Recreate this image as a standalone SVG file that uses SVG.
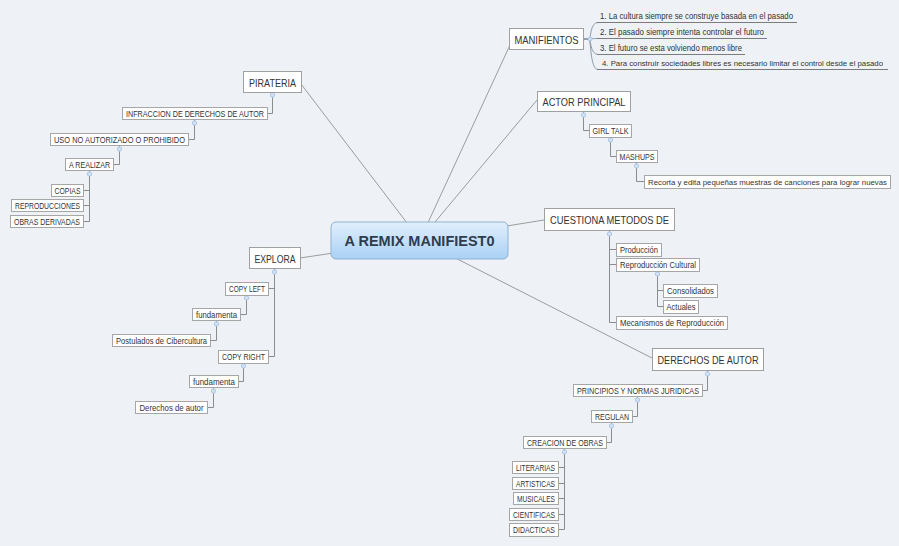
<svg xmlns="http://www.w3.org/2000/svg" width="899" height="546" viewBox="0 0 899 546">
<defs>
<linearGradient id="cg" x1="0" y1="0" x2="0" y2="1">
<stop offset="0" stop-color="#e2effc"/>
<stop offset="1" stop-color="#a9d1f5"/>
</linearGradient>
<style>
.bg{fill:#eef1f5}
.main line{stroke:#9c9c9c;stroke-width:1;fill:none}
.sub path{stroke:#8c8c8c;stroke-width:1;fill:none}
.cur path{stroke:#8c9aab;stroke-width:1;fill:none}
.ul{stroke:#7c7c7c;stroke-width:1}
.fold{fill:#cfe1f3;stroke:#a3c2e2;stroke-width:0.8}
.tb rect{fill:#ffffff;stroke:#a0a0a0;stroke-width:1}
.tb text{font-family:"Liberation Sans",Arial,sans-serif;font-size:11.5px;fill:#333333;text-anchor:middle}
.sb rect{fill:#ffffff;stroke:#a6a6a6;stroke-width:1}
.sb text{font-family:"Liberation Sans",Arial,sans-serif;font-size:8.6px;fill:#333333;text-anchor:middle}
.sb text.sm{font-size:7.6px}
.it{font-family:"Liberation Sans",Arial,sans-serif;font-size:8.6px;fill:#333333}
.it.sm{font-size:7.6px}
.ct{font-family:"Liberation Sans",Arial,sans-serif;font-size:15px;font-weight:bold;fill:#2e3d4d;text-anchor:middle}
</style>
</defs>
<rect class="bg" x="0" y="0" width="899" height="546"/>

<g id="connectors">
<g class="main">
<line x1="420" y1="240" x2="301" y2="84"/>
<line x1="420" y1="240" x2="300" y2="258"/>
<line x1="420" y1="240" x2="510" y2="45"/>
<line x1="420" y1="240" x2="537" y2="100"/>
<line x1="420" y1="240" x2="544" y2="220"/>
<line x1="420" y1="240" x2="652" y2="358"/>
</g>
<g class="sub">
<path d="M272.5,92 V113.5 H267"/>
<path d="M194.5,120 V139.5 H188"/>
<path d="M119.5,146 V164.5 H113"/>
<path d="M89.5,171 V221.5 H83 M89.5,190.5 H83 M89.5,205.5 H83"/>
<path d="M274.5,269 V356.5 H268 M274.5,288.5 H268"/>
<path d="M246.5,295 V314.5 H240"/>
<path d="M216.5,321 V340.5 H210"/>
<path d="M243.5,363 V381.5 H238"/>
<path d="M213.5,388 V407.5 H207"/>
<path d="M583.5,112 V130.5 H589"/>
<path d="M610.5,137 V156.5 H616"/>
<path d="M636.5,163 V181.5 H644"/>
<path d="M609.5,231 V322.5 H616 M609.5,249.5 H616 M609.5,264.5 H616"/>
<path d="M657.5,271 V306.5 H663 M657.5,290.5 H663"/>
<path d="M707.5,371 V390.5 H702"/>
<path d="M637.5,397 V416.5 H632"/>
<path d="M611.5,423 V442.5 H606"/>
<path d="M564.5,449 V529.5 H558 M564.5,467.5 H558 M564.5,483.5 H558 M564.5,498.5 H558 M564.5,514.5 H558"/>
</g>
<g class="cur">
<path d="M583,39 H589 C591,39 590,22.5 598,22.5"/>
<path d="M583,39 H589 C591,39 590,38.5 598,38.5"/>
<path d="M583,39 H589 C591,39 590,54.5 598,54.5"/>
<path d="M583,39 H589 C591,39 590,69.5 598,69.5"/>
</g>
<g>
<circle class="fold" cx="272.5" cy="95" r="2.2"/>
<circle class="fold" cx="194.5" cy="123" r="2.2"/>
<circle class="fold" cx="119.5" cy="149" r="2.2"/>
<circle class="fold" cx="89.5" cy="174" r="2.2"/>
<circle class="fold" cx="274.5" cy="272" r="2.2"/>
<circle class="fold" cx="246.5" cy="298" r="2.2"/>
<circle class="fold" cx="216.5" cy="324" r="2.2"/>
<circle class="fold" cx="243.5" cy="366" r="2.2"/>
<circle class="fold" cx="213.5" cy="391" r="2.2"/>
<circle class="fold" cx="583.5" cy="115" r="2.2"/>
<circle class="fold" cx="610.5" cy="140" r="2.2"/>
<circle class="fold" cx="636.5" cy="166" r="2.2"/>
<circle class="fold" cx="609.5" cy="234" r="2.2"/>
<circle class="fold" cx="657.5" cy="274" r="2.2"/>
<circle class="fold" cx="707.5" cy="374" r="2.2"/>
<circle class="fold" cx="637.5" cy="400" r="2.2"/>
<circle class="fold" cx="611.5" cy="426" r="2.2"/>
<circle class="fold" cx="564.5" cy="452" r="2.2"/>
<circle class="fold" cx="590" cy="39" r="2"/>
</g>
</g>

<g id="center">
<rect x="331" y="222" width="177" height="37" rx="5" fill="url(#cg)" stroke="#8fb2d4" stroke-width="1"/>
<text class="ct" x="419.5" y="246" textLength="150" lengthAdjust="spacingAndGlyphs">A REMIX MANIFIEST0</text>
</g>

<g id="pirateria" class="tb"><rect x="243.5" y="71.5" width="58" height="21"/><text x="272.5" y="86.5" textLength="47" lengthAdjust="spacingAndGlyphs">PIRATERIA</text></g>
<g id="explora" class="tb"><rect x="249.5" y="247.5" width="51" height="21"/><text x="275" y="262.5" textLength="41" lengthAdjust="spacingAndGlyphs">EXPLORA</text></g>
<g id="manifientos" class="tb"><rect x="509.5" y="28.5" width="74" height="21"/><text x="546.5" y="43.5" textLength="64" lengthAdjust="spacingAndGlyphs">MANIFIENTOS</text></g>
<g id="actor" class="tb"><rect x="537.5" y="91.5" width="93" height="20"/><text x="584" y="105.5" textLength="83" lengthAdjust="spacingAndGlyphs">ACTOR PRINCIPAL</text></g>
<g id="cuestiona" class="tb"><rect x="544.5" y="208.5" width="130" height="22"/><text x="609.5" y="223.5" textLength="119" lengthAdjust="spacingAndGlyphs">CUESTIONA METODOS DE</text></g>
<g id="derechos" class="tb"><rect x="652.5" y="348.5" width="111" height="22"/><text x="708" y="363.5" textLength="101" lengthAdjust="spacingAndGlyphs">DERECHOS DE AUTOR</text></g>

<g id="infraccion" class="sb"><rect x="122.5" y="107.5" width="145" height="12"/><text x="195" y="116.5" textLength="138" lengthAdjust="spacingAndGlyphs">INFRACCION DE DERECHOS DE AUTOR</text></g>
<g id="uso" class="sb"><rect x="50.5" y="133.5" width="138" height="12"/><text x="119.5" y="142.5" textLength="131" lengthAdjust="spacingAndGlyphs">USO NO AUTORIZADO O PROHIBIDO</text></g>
<g id="arealizar" class="sb"><rect x="65.5" y="158.5" width="48" height="12"/><text x="89.5" y="167.5" textLength="41" lengthAdjust="spacingAndGlyphs">A REALIZAR</text></g>
<g id="copias" class="sb"><rect x="51.5" y="184.5" width="32" height="12"/><text x="67.5" y="193.5" textLength="26" lengthAdjust="spacingAndGlyphs">COPIAS</text></g>
<g id="reproducciones" class="sb"><rect x="11.5" y="199.5" width="72" height="12"/><text x="47.5" y="208.5" textLength="65" lengthAdjust="spacingAndGlyphs">REPRODUCCIONES</text></g>
<g id="obras" class="sb"><rect x="10.5" y="215.5" width="73" height="12"/><text x="47" y="224.5" textLength="66" lengthAdjust="spacingAndGlyphs">OBRAS DERIVADAS</text></g>

<g id="copyleft" class="sb"><rect x="225.5" y="282.5" width="43" height="13"/><text x="247" y="292" textLength="36" lengthAdjust="spacingAndGlyphs">COPY LEFT</text></g>
<g id="fundamenta1" class="sb"><rect x="192.5" y="308.5" width="48" height="12"/><text x="216.5" y="317.5" textLength="41" lengthAdjust="spacingAndGlyphs">fundamenta</text></g>
<g id="postulados" class="sb"><rect x="112.5" y="334.5" width="98" height="12"/><text x="161.5" y="343.5" textLength="91" lengthAdjust="spacingAndGlyphs">Postulados de Cibercultura</text></g>
<g id="copyright" class="sb"><rect x="218.5" y="350.5" width="50" height="13"/><text x="243.5" y="360" textLength="43" lengthAdjust="spacingAndGlyphs">COPY RIGHT</text></g>
<g id="fundamenta2" class="sb"><rect x="189.5" y="375.5" width="49" height="12"/><text x="214" y="384.5" textLength="42" lengthAdjust="spacingAndGlyphs">fundamenta</text></g>
<g id="derechosautor" class="sb"><rect x="135.5" y="401.5" width="72" height="12"/><text x="171.5" y="410.5" textLength="64" lengthAdjust="spacingAndGlyphs">Derechos de autor</text></g>

<g id="girltalk" class="sb"><rect x="589.5" y="124.5" width="42" height="13"/><text x="610.5" y="134" textLength="36" lengthAdjust="spacingAndGlyphs">GIRL TALK</text></g>
<g id="mashups" class="sb"><rect x="616.5" y="150.5" width="41" height="12"/><text x="637" y="159.5" textLength="35" lengthAdjust="spacingAndGlyphs">MASHUPS</text></g>
<g id="recorta" class="sb"><rect x="644.5" y="175.5" width="246" height="13"/><text class="sm" x="767.5" y="185" textLength="239" lengthAdjust="spacingAndGlyphs">Recorta y edita pequeñas muestras de canciones para lograr nuevas</text></g>

<g id="produccion" class="sb"><rect x="616.5" y="243.5" width="45" height="13"/><text x="639" y="253" textLength="38" lengthAdjust="spacingAndGlyphs">Producción</text></g>
<g id="reproduccion" class="sb"><rect x="616.5" y="258.5" width="83" height="13"/><text x="658" y="268" textLength="76" lengthAdjust="spacingAndGlyphs">Reproducción Cultural</text></g>
<g id="consolidados" class="sb"><rect x="663.5" y="284.5" width="54" height="13"/><text x="690.5" y="294" textLength="47" lengthAdjust="spacingAndGlyphs">Consolidados</text></g>
<g id="actuales" class="sb"><rect x="663.5" y="300.5" width="35" height="13"/><text x="681" y="310" textLength="29" lengthAdjust="spacingAndGlyphs">Actuales</text></g>
<g id="mecanismos" class="sb"><rect x="616.5" y="316.5" width="111" height="13"/><text x="672" y="326" textLength="104" lengthAdjust="spacingAndGlyphs">Mecanismos de Reproducción</text></g>

<g id="principios" class="sb"><rect x="573.5" y="384.5" width="129" height="12"/><text x="638" y="393.5" textLength="122" lengthAdjust="spacingAndGlyphs">PRINCIPIOS Y NORMAS JURIDICAS</text></g>
<g id="regulan" class="sb"><rect x="591.5" y="410.5" width="41" height="12"/><text x="612" y="419.5" textLength="34" lengthAdjust="spacingAndGlyphs">REGULAN</text></g>
<g id="creacion" class="sb"><rect x="523.5" y="436.5" width="83" height="12"/><text x="565" y="445.5" textLength="76" lengthAdjust="spacingAndGlyphs">CREACION DE OBRAS</text></g>
<g id="literarias" class="sb"><rect x="512.5" y="461.5" width="46" height="12"/><text x="535.5" y="470.5" textLength="39" lengthAdjust="spacingAndGlyphs">LITERARIAS</text></g>
<g id="artisticas" class="sb"><rect x="512.5" y="477.5" width="46" height="12"/><text x="535.5" y="486.5" textLength="39" lengthAdjust="spacingAndGlyphs">ARTISTICAS</text></g>
<g id="musicales" class="sb"><rect x="513.5" y="492.5" width="45" height="12"/><text x="536" y="501.5" textLength="38" lengthAdjust="spacingAndGlyphs">MUSICALES</text></g>
<g id="cientificas" class="sb"><rect x="509.5" y="508.5" width="49" height="12"/><text x="534" y="517.5" textLength="42" lengthAdjust="spacingAndGlyphs">CIENTIFICAS</text></g>
<g id="didacticas" class="sb"><rect x="509.5" y="523.5" width="49" height="13"/><text x="534" y="533" textLength="42" lengthAdjust="spacingAndGlyphs">DIDACTICAS</text></g>

<g id="item1"><text class="it" x="600" y="18.5" textLength="193" lengthAdjust="spacingAndGlyphs">1. La cultura siempre se construye basada en el pasado</text><line class="ul" x1="597" y1="22.5" x2="797" y2="22.5"/></g>
<g id="item2"><text class="it" x="600" y="34.5" textLength="164" lengthAdjust="spacingAndGlyphs">2. El pasado siempre intenta controlar el futuro</text><line class="ul" x1="597" y1="38.5" x2="767" y2="38.5"/></g>
<g id="item3"><text class="it" x="600" y="50.5" textLength="142" lengthAdjust="spacingAndGlyphs">3. El futuro se esta volviendo menos libre</text><line class="ul" x1="597" y1="54.5" x2="745" y2="54.5"/></g>
<g id="item4"><text class="it sm" x="602" y="65.5" textLength="281" lengthAdjust="spacingAndGlyphs">4. Para construir sociedades libres es necesario limitar el control desde el pasado</text><line class="ul" x1="597" y1="69.5" x2="888" y2="69.5"/></g>
</svg>
